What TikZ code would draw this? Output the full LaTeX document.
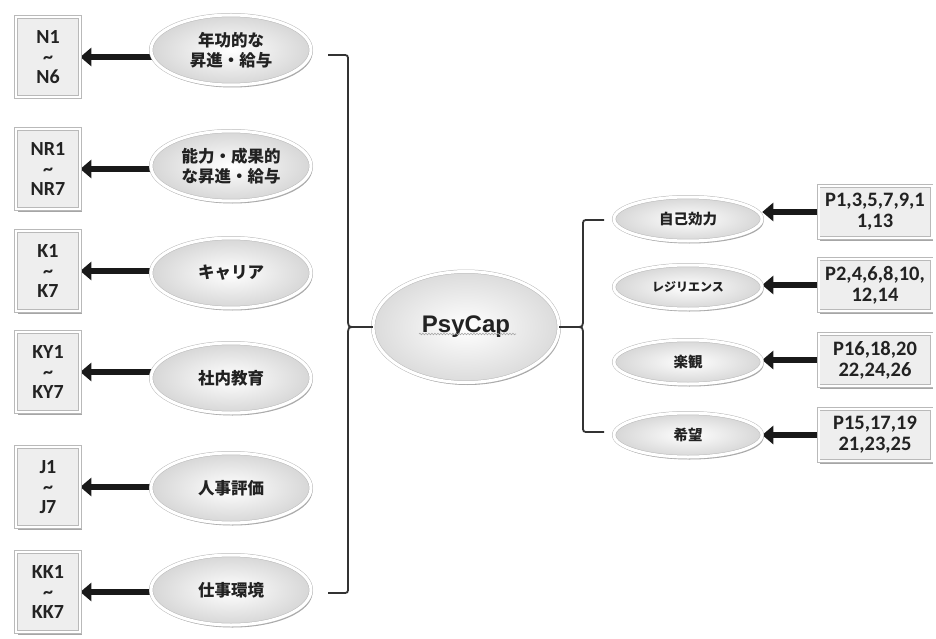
\documentclass[tikz,border=0pt]{standalone}
\usepackage{fontspec}
\setmainfont{Liberation Sans}
\newfontfamily\jpfont{Noto Sans CJK JP}
\newfontfamily\numfont{Carlito}
\usetikzlibrary{shapes.geometric,shadows,arrows.meta,backgrounds,decorations.pathmorphing}
\definecolor{txt}{HTML}{222222}
\definecolor{brk}{HTML}{333333}
\tikzset{
  ellbase/.style={ellipse, draw=gray!55, line width=0.5pt, double=white, double distance=3pt,
    inner color=white, outer color=gray!32, inner sep=0pt, align=center, text=txt,
    drop shadow={shadow xshift=1.5pt, shadow yshift=-2.5pt, opacity=0.35, fill=black}},
  lell/.style={ellbase, minimum width=160pt, minimum height=70pt, font=\jpfont\bfseries\fontsize{16.5}{20}\selectfont},
  rell/.style={ellbase, minimum width=148pt, minimum height=44pt, font=\jpfont\bfseries\fontsize{14.5}{18}\selectfont},
  pell/.style={ellbase, minimum width=186pt, minimum height=111pt, outer color=gray!28, font=\bfseries\fontsize{24}{28}\selectfont},
  boxbase/.style={rectangle, fill=gray!13, draw=gray!55, line width=0.6pt, double=white, double distance=2pt,
    inner sep=0pt, align=center, text=txt,
    drop shadow={shadow xshift=1.5pt, shadow yshift=-2.5pt, opacity=0.35, fill=black}},
  lbox/.style={boxbase, minimum width=64pt, minimum height=80pt, font=\numfont\bfseries\fontsize{20}{20}\selectfont},
  rbox/.style={boxbase, minimum width=113pt, minimum height=52pt, font=\numfont\bfseries\fontsize{20.5}{21}\selectfont},
  arr/.style={line width=6.5pt, black!90, -{Triangle[length=11pt,width=18pt]}},
  br/.style={line width=1.8pt, brk},
  squig/.style={gray!70, line width=0.6pt, decorate, decoration={snake, amplitude=0.8pt, segment length=3pt}}
}
\newcommand{\tld}{{\fontsize{20}{20}\selectfont\textasciitilde}}
\begin{document}
\begin{tikzpicture}[x=1pt,y=-1pt]
\useasboundingbox (0,0) rectangle (936,639);
% left boxes
\node[lbox] (b1) at (48,57)  {N1\\\tld\\N6};
\node[lbox] (b2) at (48,169) {NR1\\\tld\\NR7};
\node[lbox] (b3) at (48,271) {K1\\\tld\\K7};
\node[lbox] (b4) at (48,372) {KY1\\\tld\\KY7};
\node[lbox] (b5) at (48,487) {J1\\\tld\\J7};
\node[lbox] (b6) at (48,592) {KK1\\\tld\\KK7};
% left ellipses
\node[lell] (e1) at (231,50)  {年功的な\\昇進・給与};
\node[lell] (e2) at (231,166) {能力・成果的\\な昇進・給与};
\node[lell] (e3) at (231,273) {キャリア};
\node[lell] (e4) at (231,378) {社内教育};
\node[lell] (e5) at (231,488) {人事評価};
\node[lell] (e6) at (231,590) {仕事環境};
% center
\node[pell] (psy) at (466,327) {PsyCap};
\draw[squig] ([xshift=-47pt,yshift=-7pt]psy.center) -- ([xshift=50pt,yshift=-7pt]psy.center);
% right ellipses
\node[rell] (r1) at (688,219) {自己効力};
\node[rell, font=\jpfont\bfseries\fontsize{12}{14}\selectfont] (r2) at (688,287) {レジリエンス};
\node[rell] (r3) at (688,362) {楽観};
\node[rell] (r4) at (688,435) {希望};
% right boxes
\node[rbox] (q1) at (875,212) {P1,3,5,7,9,1\\1,13};
\node[rbox] (q2) at (875,285) {P2,4,6,8,10,\\12,14};
\node[rbox] (q3) at (875,360) {P16,18,20\\22,24,26};
\node[rbox] (q4) at (875,435) {P15,17,19\\21,23,25};
% arrows
\begin{pgfonlayer}{background}
\foreach \e/\b in {e1/b1,e2/b2,e3/b3,e4/b4,e5/b5,e6/b6}
  \draw[arr] (\e.center |- \b.east) -- (\b.east);
\foreach \e/\b in {r1/q1,r2/q2,r3/q3,r4/q4}
  \draw[arr] (\b.center |- \b.west) -- (\e.east |- \b.west);
\end{pgfonlayer}
% left bracket
\coordinate (lt) at (328,55);
\coordinate (lc) at (355,327);
\coordinate (lb) at (328,593);
\draw[br] (lt) -- (342,55) .. controls (348,55) .. (348,61) -- (348,318)
  .. controls (348,327) .. (lc) .. controls (348,327) .. (348,336) -- (348,587)
  .. controls (348,593) .. (342,593) -- (lb);
\draw[br] (lc) -- (psy.west);
% right bracket
\coordinate (rt) at (604,220);
\coordinate (rc) at (576,327);
\coordinate (rb) at (604,432);
\draw[br] (rt) -- (589,220) .. controls (583,220) .. (583,226) -- (583,318)
  .. controls (583,327) .. (rc) .. controls (583,327) .. (583,336) -- (583,426)
  .. controls (583,432) .. (589,432) -- (rb);
\draw[br] (psy.east) -- (rc);
\end{tikzpicture}
\end{document}
